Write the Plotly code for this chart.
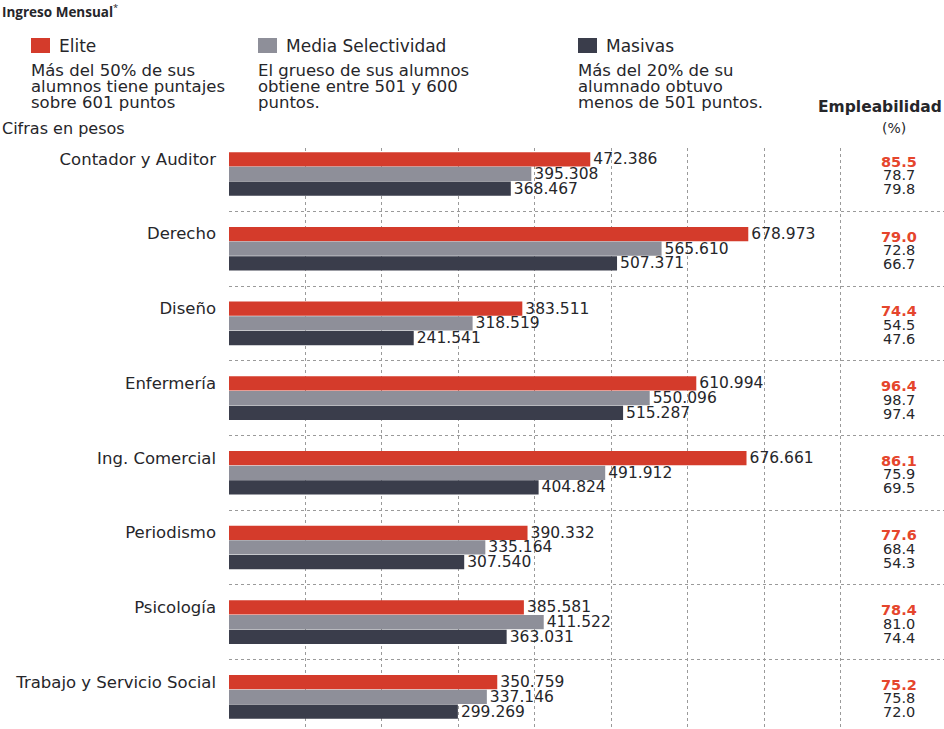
import plotly.graph_objects as go

categories = ["Contador y Auditor", "Derecho", "Diseño", "Enfermería",
              "Ing. Comercial", "Periodismo", "Psicología", "Trabajo y Servicio Social"]
series_names = ["Elite", "Media Selectividad", "Masivas"]
elite = [472386, 678973, 383511, 610994, 676661, 390332, 385581, 350759]
media = [395308, 565610, 318519, 550096, 491912, 335164, 411522, 337146]
masivas = [368467, 507371, 241541, 515287, 404824, 307540, 363031, 299269]
emp_elite = [85.5, 79.0, 74.4, 96.4, 86.1, 77.6, 78.4, 75.2]
emp_media = [78.7, 72.8, 54.5, 98.7, 75.9, 68.4, 81.0, 75.8]
emp_masivas = [79.8, 66.7, 47.6, 97.4, 69.5, 54.3, 74.4, 72.0]
grid_ticks = [100000, 200000, 300000, 400000, 500000, 600000, 700000, 800000]
descriptions = [
    ["Más del 50% de sus", "alumnos tiene puntajes", "sobre 601 puntos"],
    ["El grueso de sus alumnos", "obtiene entre 501 y 600", "puntos."],
    ["Más del 20% de su", "alumnado obtuvo", "menos de 501 puntos."],
]
colors = ["#d43b2b", "#8e8f99", "#3a3d4b"]
text_dark = "#26262a"
red_text = "#e5452c"
FONT = "DejaVu Sans"

W, H = 944, 729
ML, MR, MT, MB = 229, 0, 148, 0
PW, PH = W - ML - MR, H - MT - MB


def px(x):
    return (x - ML) / PW


def py(y):
    return (H - MB - y) / PH


def fmt(v):
    return f"{v:,}".replace(",", ".")


fig = go.Figure()
for name, vals, col in zip(series_names, [elite, media, masivas], colors):
    fig.add_trace(go.Bar(
        y=categories, x=vals, orientation="h", name=name,
        marker=dict(color=col, line=dict(width=0)),
        text=[fmt(v) for v in vals], textposition="outside",
        textfont=dict(family=FONT, size=15.5, color=text_dark),
        constraintext="none", cliponaxis=False, showlegend=False,
    ))

annotations = []
# Empleabilidad column
for i, cat in enumerate(categories):
    for vals, shift, col, bold in [(emp_elite, -12, red_text, True),
                                   (emp_media, 1.5, text_dark, False),
                                   (emp_masivas, 15.5, text_dark, False)]:
        t = f"{vals[i]:.1f}"
        annotations.append(dict(
            x=px(899), xref="paper", y=cat, yref="y", yshift=-shift,
            text=f"<b>{t}</b>" if bold else t, showarrow=False,
            xanchor="center", yanchor="middle",
            font=dict(family=FONT, size=14.5, color=col)))

# header texts
annotations += [
    dict(x=px(0), y=py(11), text="<b>Ingreso Mensual</b><sup>*</sup>",
         font=dict(family="Open Sans", size=13.5, color=text_dark), xanchor="left"),
    dict(x=px(0), y=py(128), text="Cifras en pesos",
         font=dict(family=FONT, size=16, color=text_dark), xanchor="left"),
    dict(x=px(944), y=py(107), text="<b>Empleabilidad</b>",
         font=dict(family=FONT, size=15.5, color=text_dark), xanchor="right"),
    dict(x=px(894), y=py(128), text="(%)",
         font=dict(family=FONT, size=14, color=text_dark), xanchor="center"),
]
leg_x = [31, 258, 578]
shapes = []
for name, col, lx, desc in zip(series_names, colors, leg_x, descriptions):
    shapes.append(dict(type="rect", xref="paper", yref="paper",
                       x0=px(lx), x1=px(lx + 19), y0=py(53), y1=py(38),
                       fillcolor=col, line=dict(width=0)))
    annotations.append(dict(x=px(lx + 26), y=py(46), text=name,
                            font=dict(family=FONT, size=17, color=text_dark),
                            xanchor="left"))
    for j, line in enumerate(desc):
        annotations.append(dict(x=px(lx - 2), y=py(71 + 16 * j), text=line,
                                font=dict(family=FONT, size=16.5, color=text_dark),
                                xanchor="left"))
for a in annotations:
    a.setdefault("xref", "paper")
    a.setdefault("yref", "paper")
    a.setdefault("showarrow", False)
    a.setdefault("yanchor", "middle")

xmax = PW / 0.7648 * 1000
fig.update_layout(
    width=W, height=H,
    margin=dict(l=ML, r=MR, t=MT, b=MB),
    paper_bgcolor="white", plot_bgcolor="white",
    barmode="group", bargap=0.41, bargroupgap=0.03,
    font=dict(family=FONT, size=15, color=text_dark),
    xaxis=dict(range=[0, xmax], tickvals=grid_ticks,
               showticklabels=False, showgrid=True, gridcolor="#9a9a9a",
               griddash="dot", gridwidth=1, zeroline=False, showline=False,
               fixedrange=True, automargin=False),
    yaxis=dict(type="category", categoryorder="array", categoryarray=categories,
               range=[7.43, -0.348], tickson="boundaries", showgrid=True,
               gridcolor="#9a9a9a", griddash="dot", gridwidth=1,
               ticks="", ticklabelstandoff=12, ticklabelshift=15,
               tickfont=dict(family=FONT, size=16.5, color=text_dark),
               showline=False, zeroline=False, automargin=False,
               fixedrange=True),
    annotations=annotations, shapes=shapes,
)
fig.write_html("out.html", config={"displayModeBar": False},
               post_script="document.body.style.margin='0';document.body.style.padding='0';")
